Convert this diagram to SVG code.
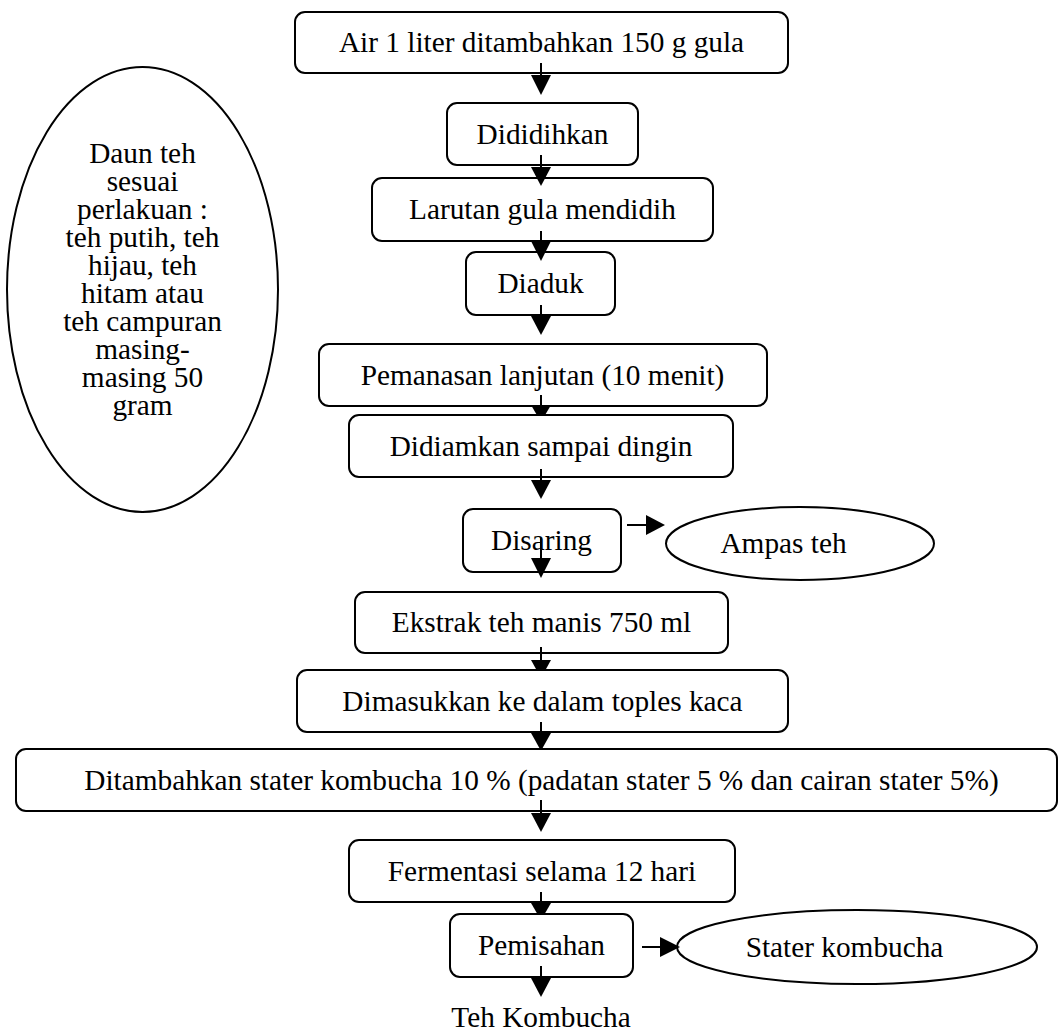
<svg xmlns="http://www.w3.org/2000/svg" width="1060" height="1033" viewBox="0 0 1060 1033">
<style>
.box{fill:#fff;stroke:#000;stroke-width:2}
.el{fill:#fff;stroke:#000;stroke-width:2}
.t{font-family:"Liberation Serif","Times New Roman",serif;font-size:29.3px;fill:#000;text-anchor:middle}
.ln{stroke:#000;stroke-width:2;fill:none}
.hd{fill:#000;stroke:none}
</style>
<rect width="1060" height="1033" fill="#fff"/>
<g id="nodes">
<g id="n1"><rect class="box" x="295" y="12" width="493" height="61" rx="10"/><text class="t" x="541.5" y="52">Air 1 liter ditambahkan 150 g gula</text></g>
<g id="n2"><rect class="box" x="447" y="103" width="191" height="62" rx="10"/><text class="t" x="542.5" y="143.5">Dididihkan</text></g>
<g id="n3"><rect class="box" x="372" y="178" width="341" height="63" rx="10"/><text class="t" x="542.5" y="219">Larutan gula mendidih</text></g>
<g id="n4"><rect class="box" x="466" y="252" width="149" height="63" rx="10"/><text class="t" x="540.5" y="293">Diaduk</text></g>
<g id="n5"><rect class="box" x="319" y="344" width="448" height="62" rx="10"/><text class="t" x="542.5" y="384.5">Pemanasan lanjutan (10 menit)</text></g>
<g id="n6"><rect class="box" x="349" y="415" width="384" height="62" rx="10"/><text class="t" x="541" y="455.5">Didiamkan sampai dingin</text></g>
<g id="n7"><rect class="box" x="463" y="509" width="158" height="63" rx="10"/><text class="t" x="541.5" y="550">Disaring</text></g>
<g id="n8"><ellipse class="el" cx="800" cy="543.5" rx="134" ry="36.5"/><text class="t" x="783.5" y="553">Ampas teh</text></g>
<g id="n9"><rect class="box" x="355" y="592" width="373" height="61" rx="10"/><text class="t" x="541.5" y="632">Ekstrak teh manis 750 ml</text></g>
<g id="n10"><rect class="box" x="297" y="670" width="491" height="62" rx="10"/><text class="t" x="542.5" y="710.5">Dimasukkan ke dalam toples kaca</text></g>
<g id="n11"><rect class="box" x="16" y="749" width="1041" height="62" rx="10"/><text class="t" x="541.5" y="789.5">Ditambahkan stater kombucha 10 % (padatan stater 5 % dan cairan stater 5%)</text></g>
<g id="n12"><rect class="box" x="349" y="840" width="386" height="62" rx="10"/><text class="t" x="542" y="880.5">Fermentasi selama 12 hari</text></g>
<g id="n13"><rect class="box" x="450" y="914" width="183" height="63" rx="10"/><text class="t" x="541.5" y="955">Pemisahan</text></g>
<g id="n14"><ellipse class="el" cx="857" cy="947" rx="180" ry="37"/><text class="t" x="844.5" y="956.5">Stater kombucha</text></g>
<g id="n15"><text class="t" x="541" y="1027">Teh Kombucha</text></g>
<g id="n16"><ellipse class="el" cx="142.5" cy="289.5" rx="135.5" ry="222.5"/>
<text class="t" x="142.5" y="163">Daun teh</text>
<text class="t" x="142.5" y="191">sesuai</text>
<text class="t" x="142.5" y="219">perlakuan :</text>
<text class="t" x="142.5" y="247">teh putih, teh</text>
<text class="t" x="142.5" y="275">hijau, teh</text>
<text class="t" x="142.5" y="303">hitam atau</text>
<text class="t" x="142.5" y="331">teh campuran</text>
<text class="t" x="142.5" y="359">masing-</text>
<text class="t" x="142.5" y="387">masing 50</text>
<text class="t" x="142.5" y="415">gram</text>
</g>
</g>
<g id="connectors">
<line class="ln" x1="541" y1="63" x2="541" y2="77"/><polygon class="hd" points="531,75 551,75 541,95"/>
<line class="ln" x1="541" y1="155" x2="541" y2="169"/><polygon class="hd" points="531,167 551,167 541,186"/>
<line class="ln" x1="541" y1="231" x2="541" y2="243"/><polygon class="hd" points="531,241 551,241 541,261"/>
<line class="ln" x1="541" y1="305" x2="541" y2="318"/><polygon class="hd" points="531,316 551,316 541,335"/>
<line class="ln" x1="541" y1="395" x2="541" y2="407"/><polygon class="hd" points="531,405 551,405 545.7,414 536.3,414"/>
<line class="ln" x1="541" y1="469" x2="541" y2="482"/><polygon class="hd" points="531,480 551,480 541,499"/>
<line class="ln" x1="541" y1="538" x2="541" y2="560"/><polygon class="hd" points="531,558 551,558 541,578"/>
<line class="ln" x1="541" y1="647" x2="541" y2="662"/><polygon class="hd" points="531,660 551,660 546,669 536,669"/>
<line class="ln" x1="541" y1="722" x2="541" y2="735"/><polygon class="hd" points="531,733 551,733 542.6,748 539.4,748"/>
<line class="ln" x1="541" y1="800" x2="541" y2="815"/><polygon class="hd" points="531,813 551,813 541,832"/>
<line class="ln" x1="541" y1="892" x2="541" y2="905"/><polygon class="hd" points="531,903 551,903 545.2,913 536.8,913"/>
<line class="ln" x1="541" y1="966" x2="541" y2="980"/><polygon class="hd" points="531,978 551,978 541,997"/>
<line class="ln" x1="627" y1="525" x2="648" y2="525"/><polygon class="hd" points="646,515 646,535 665,525"/>
<line class="ln" x1="642" y1="947" x2="662" y2="947"/><polygon class="hd" points="660,937 660,957 680,947"/>
</g>
</svg>
